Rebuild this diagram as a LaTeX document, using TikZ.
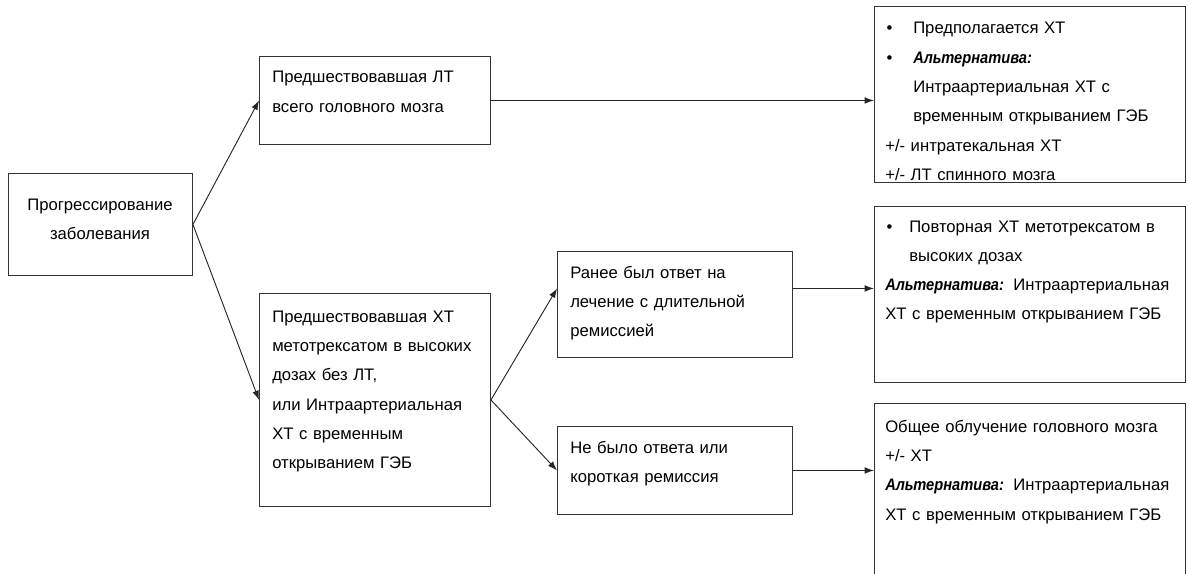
\documentclass[tikz,border=0pt]{standalone}
\usepackage{fontspec}
\setmainfont{Liberation Sans}
\usetikzlibrary{positioning, arrows.meta, calc}

\newcommand\altlabel{\scalebox{0.88}[1]{\textbf{\textit{Альтернатива:}}}\hspace{7pt}}

\begin{document}
\begin{tikzpicture}[x=0.75pt, y=-0.75pt,
	box/.style={draw=black!80, line width=0.7pt, anchor=north west, inner sep=0pt},
	txt/.style={anchor=base west, align=left, inner sep=0pt, text width=240pt, font=\fontsize{12.5}{22}\selectfont},
	link/.style={draw=black!85, line width=0.7pt, -{Latex[length=7pt,width=5pt]}}]
	\useasboundingbox (0,0) rectangle (1188,574);
	% boxes
	\node[box, minimum width=184*0.75pt, minimum height=102*0.75pt] (prog) at (8,173) {};
	\node[box, minimum width=231*0.75pt, minimum height=88*0.75pt] (ltbox) at (259,56) {};
	\node[box, minimum width=231*0.75pt, minimum height=213*0.75pt] (htbox) at (259,293) {};
	\node[box, minimum width=235*0.75pt, minimum height=106*0.75pt] (resp) at (557,251) {};
	\node[box, minimum width=235*0.75pt, minimum height=88*0.75pt] (nores) at (557,426) {};
	\node[box, minimum width=311*0.75pt, minimum height=176*0.75pt] (plana) at (874,6) {};
	\node[box, minimum width=311*0.75pt, minimum height=176*0.75pt] (planb) at (874,206) {};
	\node[box, minimum width=311*0.75pt, minimum height=185*0.75pt] (planc) at (874,403) {};
	% texts
	\node[txt, anchor=base, align=center, text width=170pt] (progtext) at (100,210) {Прогрессирование\\ заболевания};
	\node[txt] (lttext) at (272,83) {Предшествовавшая ЛТ\\ всего головного мозга};
	\node[txt] (httext) at (272,322) {Предшествовавшая ХТ\\ метотрексатом в высоких\\ дозах без ЛТ,\\ или Интраартериальная\\ ХТ с временным\\ открыванием ГЭБ};
	\node[txt] (resptext) at (570,278) {Ранее был ответ на\\ лечение с длительной\\ ремиссией};
	\node[txt] (norestext) at (570,453) {Не было ответа или\\ короткая ремиссия};
	\begin{scope}
		\clip (plana.north west) rectangle (plana.south east);
		\node[txt] (planatext) at (885,34) {\makebox[21pt][l]{\hspace{1pt}\textbullet}Предполагается ХТ\\
			\makebox[21pt][l]{\hspace{1pt}\textbullet}\altlabel\\
			\hspace*{21pt}Интраартериальная ХТ с\\
			\hspace*{21pt}временным открыванием ГЭБ\\
			+/- интратекальная ХТ\\
			+/- ЛТ спинного мозга};
	\end{scope}
	\node[txt] (planbtext) at (885,232) {\makebox[18pt][l]{\hspace{1pt}\textbullet}Повторная ХТ метотрексатом в\\
		\hspace*{18pt}высоких дозах\\
		\altlabel Интраартериальная\\
		ХТ с временным открыванием ГЭБ};
	\node[txt] (planctext) at (885,432) {Общее облучение головного мозга\\
		+/- ХТ\\
		\altlabel Интраартериальная\\
		ХТ с временным открыванием ГЭБ};
	% connectors
	\draw[link] (prog.east) -- (ltbox.west);
	\draw[link] (prog.east) -- (htbox.west);
	\draw[link] (htbox.east) -- ([yshift=12pt]resp.west);
	\draw[link] (htbox.east) -- (nores.west);
	\draw[link] (ltbox.east) -- (ltbox.east -| plana.west);
	\draw[link] ([yshift=12pt]resp.east) -- ([yshift=12pt]resp.east -| planb.west);
	\draw[link] (nores.east) -- (nores.east -| planc.west);
\end{tikzpicture}
\end{document}
